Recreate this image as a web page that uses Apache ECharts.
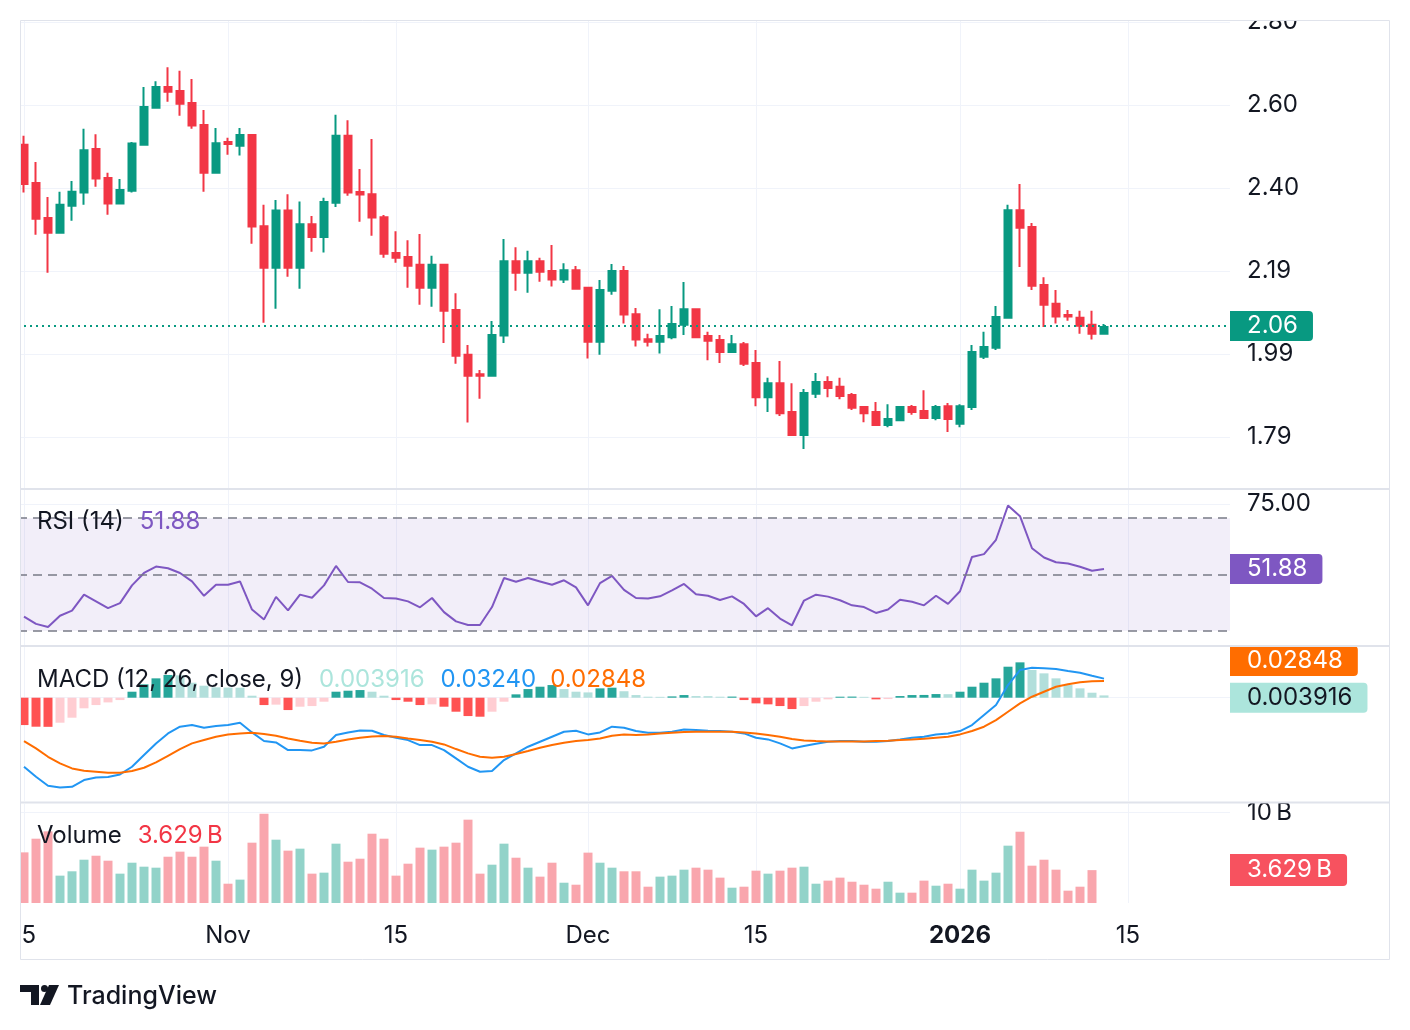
<!DOCTYPE html>
<html>
<head>
<meta charset="utf-8">
<title>XRP daily</title>
<script src="https://cdn.jsdelivr.net/npm/echarts@6/dist/echarts.min.js"></script>
<style>
  html, body { margin: 0; background: #fff; }
  #chart { width: 1410px; height: 1030px; }
</style>
</head>
<body>
<div id="chart"></div>
<script>
// daily candles from 15 Oct 2025, axis runs on a few days past the last one
const firstDay = [2025, 9, 15];
const dayCount = 101;

const opens = [2.501, 2.408, 2.323, 2.287, 2.353, 2.385, 2.491, 2.420, 2.358, 2.389,
  2.501, 2.591, 2.642, 2.632, 2.603, 2.549, 2.433, 2.508, 2.499, 2.525,
  2.303, 2.202, 2.341, 2.202, 2.308, 2.277, 2.360, 2.523, 2.386, 2.381,
  2.325, 2.238, 2.228, 2.209, 2.153, 2.209, 2.099, 1.990, 1.943, 1.939,
  2.037, 2.218, 2.190, 2.218, 2.194, 2.173, 2.196, 2.153, 2.022, 2.146,
  2.194, 2.089, 2.028, 2.022, 2.033, 2.063, 2.101, 2.036, 2.026, 1.997,
  2.016, 1.970, 1.887, 1.921, 1.851, 1.795, 1.895, 1.924, 1.912, 1.892,
  1.863, 1.851, 1.819, 1.831, 1.863, 1.853, 1.836, 1.865, 1.822, 1.863,
  1.985, 2.007, 2.080, 2.342, 2.301, 2.160, 2.114, 2.087, 2.080, 2.063,
  2.041];
const closes = [2.406, 2.321, 2.287, 2.355, 2.387, 2.488, 2.419, 2.358, 2.391, 2.504,
  2.593, 2.642, 2.630, 2.601, 2.548, 2.433, 2.505, 2.503, 2.525, 2.302,
  2.202, 2.341, 2.202, 2.308, 2.277, 2.362, 2.523, 2.385, 2.380, 2.324,
  2.236, 2.226, 2.207, 2.153, 2.209, 2.097, 1.988, 1.939, 1.939, 2.038,
  2.218, 2.190, 2.218, 2.192, 2.173, 2.196, 2.151, 2.022, 2.148, 2.194,
  2.088, 2.027, 2.022, 2.036, 2.065, 2.101, 2.033, 2.024, 1.997, 2.016,
  1.968, 1.887, 1.921, 1.848, 1.795, 1.897, 1.924, 1.909, 1.890, 1.861,
  1.848, 1.819, 1.834, 1.863, 1.851, 1.836, 1.863, 1.834, 1.865, 1.997,
  2.009, 2.082, 2.342, 2.299, 2.158, 2.112, 2.083, 2.083, 2.061, 2.041,
  2.058];
const lows = [2.385, 2.282, 2.190, 2.287, 2.316, 2.355, 2.399, 2.331, 2.358, 2.385,
  2.501, 2.591, 2.606, 2.572, 2.540, 2.387, 2.433, 2.477, 2.475, 2.260,
  2.068, 2.102, 2.180, 2.151, 2.241, 2.239, 2.350, 2.377, 2.314, 2.280,
  2.226, 2.214, 2.153, 2.112, 2.107, 2.019, 1.968, 1.825, 1.883, 1.939,
  2.019, 2.146, 2.141, 2.168, 2.156, 2.165, 2.151, 1.981, 1.990, 2.136,
  2.066, 2.010, 2.010, 1.993, 2.028, 2.038, 2.033, 1.977, 1.970, 1.997,
  1.963, 1.865, 1.851, 1.841, 1.795, 1.761, 1.885, 1.887, 1.882, 1.856,
  1.826, 1.819, 1.814, 1.831, 1.844, 1.836, 1.831, 1.802, 1.814, 1.856,
  1.980, 2.002, 2.080, 2.204, 2.148, 2.058, 2.066, 2.073, 2.041, 2.027,
  2.039];
const highs = [2.523, 2.459, 2.374, 2.387, 2.413, 2.540, 2.527, 2.433, 2.418, 2.508,
  2.642, 2.656, 2.690, 2.681, 2.661, 2.586, 2.542, 2.518, 2.542, 2.525,
  2.355, 2.367, 2.381, 2.363, 2.328, 2.372, 2.574, 2.561, 2.442, 2.515,
  2.330, 2.291, 2.269, 2.284, 2.231, 2.209, 2.140, 2.014, 1.953, 2.072,
  2.272, 2.252, 2.243, 2.226, 2.257, 2.213, 2.206, 2.153, 2.172, 2.211,
  2.206, 2.104, 2.041, 2.101, 2.109, 2.167, 2.101, 2.046, 2.038, 2.038,
  2.021, 2.002, 1.934, 1.975, 1.921, 1.907, 1.946, 1.938, 1.934, 1.897,
  1.865, 1.875, 1.870, 1.863, 1.868, 1.904, 1.868, 1.873, 1.870, 2.014,
  2.046, 2.109, 2.355, 2.406, 2.311, 2.179, 2.148, 2.099, 2.097, 2.097,
  2.065];

const rsi = [35.0, 32.4, 31.3, 35.3, 37.1, 42.8, 40.4, 38.0, 39.8, 46.1,
  50.5, 52.8, 52.2, 50.5, 47.5, 42.4, 46.3, 46.3, 47.5, 37.5,
  34.0, 42.0, 37.2, 42.8, 41.7, 46.1, 53.0, 47.3, 47.2, 44.9,
  41.6, 41.4, 40.4, 38.3, 41.6, 36.6, 33.3, 32.0, 32.0, 38.4,
  48.7, 47.4, 48.7, 47.5, 46.3, 47.9, 45.4, 39.0, 46.9, 49.5,
  44.5, 41.6, 41.4, 42.2, 44.3, 46.6, 42.9, 42.4, 40.9, 42.2,
  39.5, 35.1, 38.0, 34.3, 31.9, 40.7, 42.8, 42.1, 40.8, 39.0,
  38.4, 36.3, 37.5, 41.0, 40.3, 39.0, 42.4, 39.5, 44.0, 56.2,
  57.2, 62.3, 74.5, 70.7, 59.3, 56.0, 54.3, 53.9, 52.7, 51.3,
  51.88];

const macdHist = [-0.0465, -0.0493, -0.0495, -0.0425, -0.034, -0.018, -0.0125, -0.008, -0.004, 0.0102,
  0.0227, 0.0329, 0.0386, 0.038, 0.0255, 0.0204, 0.0176, 0.0172, 0.017, 0.0034,
  -0.0125, -0.0118, -0.021, -0.0153, -0.0142, -0.0068, 0.0102, 0.0119, 0.013, 0.0102,
  0.0034, -0.004, -0.0068, -0.0125, -0.0113, -0.0153, -0.0238, -0.0312, -0.0323, -0.0238,
  -0.0068, 0.0057, 0.0147, 0.0187, 0.0215, 0.0147, 0.0102, 0.009, 0.0159, 0.017,
  0.011, 0.0045, 0.0017, 0.0015, 0.0022, 0.0045, 0.0028, 0.0026, 0.0017, 0.0019,
  -0.004, -0.0096, -0.0113, -0.0142, -0.0193, -0.0142, -0.0068, -0.0028, 0.0017, 0.0019,
  0.0015, -0.0028, -0.0023, 0.0028, 0.0045, 0.0047, 0.0062, 0.006, 0.0102, 0.0187,
  0.0255, 0.0329, 0.0527, 0.0601, 0.0471, 0.0414, 0.0329, 0.0215, 0.0159, 0.0085,
  0.003916];
const macdLine = [-0.1174, -0.1344, -0.1497, -0.1525, -0.1514, -0.14, -0.1355, -0.1349, -0.1304, -0.1174,
  -0.0975, -0.0777, -0.0607, -0.0493, -0.0465, -0.051, -0.0482, -0.0465, -0.0425, -0.059,
  -0.0737, -0.076, -0.089, -0.089, -0.0896, -0.0833, -0.0635, -0.059, -0.0556, -0.0561,
  -0.0635, -0.068, -0.072, -0.0805, -0.0805, -0.089, -0.1032, -0.1174, -0.1259, -0.1247,
  -0.106, -0.0947, -0.0833, -0.0748, -0.0663, -0.0578, -0.0561, -0.0624, -0.059, -0.0493,
  -0.051, -0.0567, -0.0595, -0.0595, -0.0578, -0.0539, -0.055, -0.0561, -0.0567, -0.0578,
  -0.0607, -0.068, -0.0709, -0.0777, -0.0862, -0.0822, -0.0782, -0.0748, -0.0737, -0.0737,
  -0.0748, -0.0748, -0.0737, -0.0709, -0.068, -0.0663, -0.0624, -0.0607, -0.0567, -0.0465,
  -0.0295, -0.0125, 0.0215, 0.0471, 0.051, 0.0499, 0.0488, 0.0454, 0.0425, 0.0374,
  0.0324];
const signalLine = [-0.0737, -0.0862, -0.1004, -0.1117, -0.1202, -0.1242, -0.1259, -0.1276, -0.1276, -0.1247,
  -0.1191, -0.11, -0.0987, -0.0873, -0.0777, -0.072, -0.0663, -0.0624, -0.0607, -0.0595,
  -0.0618, -0.0646, -0.0692, -0.0731, -0.0765, -0.0777, -0.0748, -0.0709, -0.068, -0.0658,
  -0.0652, -0.0663, -0.0692, -0.072, -0.0748, -0.0794, -0.0873, -0.0947, -0.1004, -0.1021,
  -0.1004, -0.0958, -0.0907, -0.0851, -0.0805, -0.0765, -0.0737, -0.072, -0.0692, -0.0646,
  -0.0624, -0.0635, -0.0624, -0.0607, -0.0595, -0.0584, -0.0578, -0.0578, -0.0578, -0.0578,
  -0.059, -0.0607, -0.0635, -0.0663, -0.0703, -0.0726, -0.0737, -0.0743, -0.0743, -0.0743,
  -0.0743, -0.0737, -0.0731, -0.072, -0.0709, -0.0697, -0.068, -0.0663, -0.0624, -0.0567,
  -0.0493, -0.038, -0.0238, -0.0096, 0.0017, 0.0102, 0.0187, 0.0227, 0.0261, 0.0278,
  0.02848];

// billions; today's bar not printed yet
const volume = [5.59, 7.10, 7.91, 3.02, 3.50, 4.78, 5.22, 4.67, 3.24, 4.45,
  4.01, 3.90, 5.11, 5.67, 5.11, 6.22, 4.67, 2.13, 2.58, 6.66,
  9.86, 6.99, 5.78, 6.00, 3.24, 3.35, 6.55, 4.56, 4.89, 7.65,
  7.10, 3.02, 4.34, 6.11, 5.89, 6.22, 6.66, 9.20, 3.24, 4.23,
  6.55, 5.00, 3.90, 2.91, 4.45, 2.24, 2.02, 5.56, 4.45, 3.90,
  3.50, 3.50, 1.80, 2.91, 3.02, 3.68, 3.90, 3.68, 2.80, 1.69,
  1.80, 3.57, 3.24, 3.57, 3.90, 4.01, 2.13, 2.47, 2.80, 2.35,
  2.02, 1.58, 2.35, 1.14, 1.14, 2.47, 1.91, 2.13, 1.58, 3.68,
  2.47, 3.35, 6.33, 7.87, 4.12, 4.78, 3.68, 1.36, 1.80, 3.629];

const priceTicks = [1.79, 1.992, 2.194, 2.396, 2.598, 2.80];
const rsiTicks = [75];
const rsiLevels = [70, 50, 30];
const macdTicks = [0];
const volumeTicks = [10];
const monthNames = ['Jan', 'Feb', 'Mar', 'Apr', 'May', 'Jun', 'Jul', 'Aug', 'Sep', 'Oct', 'Nov', 'Dec'];

const fontFamily = 'Inter, "Noto Sans", sans-serif';
const fontSize = 24;
const textColor = '#131722';
const gridColor = '#f0f3fa';
const upColor = '#089981';
const downColor = '#f23645';
const hidden = 'rgba(0,0,0,0)';

const dates = [];
for (let k = 0; k < dayCount; k++) {
  const d = new Date(Date.UTC(firstDay[0], firstDay[1], firstDay[2] + k));
  dates.push(d.toISOString().slice(0, 10));
}
const dayOf = (i) => +dates[i].slice(8, 10);
const marked = (i) => dayOf(i) === 1 || dayOf(i) === 15;

function dateLabel(value) {
  const [y, m, d] = value.split('-').map(Number);
  if (d === 15) return '15';
  if (m === 1) return '{year|' + y + '}';
  return monthNames[m - 1];
}

const candles = opens.map((o, i) => [o, closes[i], lows[i], highs[i]]);
const last = (arr) => arr[arr.length - 1];

const labelFont = { color: textColor, fontSize: fontSize, fontFamily: fontFamily };
const badge = (bg, fg) => ({
  show: true, position: 'end', distance: 0,
  backgroundColor: bg, color: fg, fontSize: fontSize, lineHeight: 24, fontFamily: fontFamily,
  padding: [3, 15, 3, 17], borderRadius: [0, 4, 4, 0]
});

function xAxisFor(gi, showLabels) {
  return {
    type: 'category', gridIndex: gi, data: dates, boundaryGap: true,
    axisLine: { show: false }, axisTick: { show: false },
    axisLabel: Object.assign({
      show: showLabels, interval: marked, formatter: dateLabel, margin: 21,
      rich: { year: { fontWeight: 'bold', fontSize: fontSize, fontFamily: fontFamily, color: textColor } }
    }, labelFont),
    splitLine: { show: true, interval: marked, alignWithLabel: true, lineStyle: { color: gridColor, width: 1 } }
  };
}

function yAxisFor(gi, min, max, ticks, fmt) {
  return {
    type: 'value', gridIndex: gi, position: 'right', min: min, max: max,
    axisLine: { show: false },
    axisTick: { show: false, customValues: ticks },
    axisLabel: Object.assign({ show: !!fmt, customValues: ticks, formatter: fmt, margin: 17 }, labelFont),
    splitLine: { show: true, lineStyle: { color: gridColor, width: 1 } }
  };
}

const chart = echarts.init(document.getElementById('chart'));

chart.setOption({
  animation: false,
  backgroundColor: '#fff',
  grid: [
    { left: 18, top: 20, width: 1212, height: 468 },
    { left: 18, top: 490, width: 1212, height: 155 },
    { left: 18, top: 647, width: 1212, height: 154 },
    { left: 18, top: 804, width: 1212, height: 99 }
  ],
  xAxis: [xAxisFor(0, false), xAxisFor(1, false), xAxisFor(2, false), xAxisFor(3, true)],
  yAxis: [
    yAxisFor(0, 1.6659, 2.8048, priceTicks, (v) => v.toFixed(2)),
    yAxisFor(1, 24.9, 80, rsiTicks, (v) => v.toFixed(2)),
    yAxisFor(2, -0.1756, 0.0862, macdTicks, null),
    yAxisFor(3, 0, 10.93, volumeTicks, (v) => v + '\u2009B')
  ],
  series: [
    {
      name: 'Price', type: 'candlestick', xAxisIndex: 0, yAxisIndex: 0,
      data: candles, barWidth: 8,
      itemStyle: { color: upColor, color0: downColor, borderColor: upColor, borderColor0: downColor, borderWidth: 2 },
      markLine: {
        symbol: 'none', silent: true, animation: false,
        data: [{
          yAxis: last(closes),
          lineStyle: { color: upColor, type: [2, 4], width: 2 },
          label: Object.assign(badge(upColor, '#fff'), { formatter: last(closes).toFixed(2) })
        }]
      }
    },
    {
      name: 'RSI', type: 'line', xAxisIndex: 1, yAxisIndex: 1,
      data: rsi, symbol: 'none', lineStyle: { color: '#7e57c2', width: 2 },
      markArea: {
        silent: true,
        itemStyle: { color: 'rgba(126,87,194,0.1)' },
        data: [[{ yAxis: rsiLevels[2] }, { yAxis: rsiLevels[0] }]]
      },
      markLine: {
        symbol: 'none', silent: true, animation: false,
        data: rsiLevels.map((v) => ({
          yAxis: v, lineStyle: { color: '#787b86', type: [9, 6], width: 1.5 }, label: { show: false }
        })).concat([{
          yAxis: last(rsi), lineStyle: { color: hidden, width: 0 },
          label: Object.assign(badge('#7e57c2', '#fff'), { formatter: last(rsi).toFixed(2) })
        }])
      }
    },
    {
      name: 'Histogram', type: 'bar', xAxisIndex: 2, yAxisIndex: 2,
      data: macdHist, barWidth: 9,
      itemStyle: {
        color: (p) => {
          const h = macdHist[p.dataIndex];
          const prev = p.dataIndex > 0 ? macdHist[p.dataIndex - 1] : h;
          if (h >= 0) return h >= prev ? '#26a69a' : '#b2dfdb';
          return h <= prev ? '#ff5252' : '#ffcdd2';
        }
      }
    },
    {
      name: 'MACD', type: 'line', xAxisIndex: 2, yAxisIndex: 2,
      data: macdLine, symbol: 'none', lineStyle: { color: '#2196f3', width: 2 }
    },
    {
      name: 'Signal', type: 'line', xAxisIndex: 2, yAxisIndex: 2,
      data: signalLine, symbol: 'none', lineStyle: { color: '#ff6d00', width: 2 },
      markLine: {
        symbol: 'none', silent: true, animation: false,
        data: [
          {
            yAxis: last(signalLine), lineStyle: { color: hidden, width: 0 },
            label: Object.assign(badge('#ff6d00', '#fff'), { formatter: last(signalLine).toFixed(5), offset: [0, -19] })
          },
          {
            yAxis: last(macdHist), lineStyle: { color: hidden, width: 0 },
            label: Object.assign(badge('#ace5dc', textColor), { formatter: last(macdHist).toFixed(6) })
          }
        ]
      }
    },
    {
      name: 'Volume', type: 'bar', xAxisIndex: 3, yAxisIndex: 3,
      data: volume, barWidth: 9,
      itemStyle: { color: (p) => closes[p.dataIndex] >= opens[p.dataIndex] ? '#92d3c9' : '#f9a6ad' },
      markLine: {
        symbol: 'none', silent: true, animation: false,
        data: [{
          yAxis: last(volume), lineStyle: { color: hidden, width: 0 },
          label: Object.assign(badge('#f7525f', '#fff'), { formatter: last(volume).toFixed(3) + '\u2009B', padding: [4, 15, 4, 17] })
        }]
      }
    }
  ],
  graphic: [
    { type: 'rect', silent: true, z: 100, shape: { x: 0, y: 0, width: 20, height: 1030 }, style: { fill: '#fff' } },
    { type: 'rect', silent: true, z: 100, shape: { x: 0, y: 0, width: 1410, height: 20 }, style: { fill: '#fff' } },
    { type: 'rect', silent: true, z: 101, shape: { x: 20.5, y: 20.5, width: 1369, height: 939 }, style: { fill: null, stroke: '#e0e3eb', lineWidth: 1 } },
    { type: 'line', silent: true, z: 101, shape: { x1: 20, y1: 489, x2: 1390, y2: 489 }, style: { stroke: '#e0e3eb', lineWidth: 2 } },
    { type: 'line', silent: true, z: 101, shape: { x1: 20, y1: 646, x2: 1390, y2: 646 }, style: { stroke: '#e0e3eb', lineWidth: 2 } },
    { type: 'line', silent: true, z: 101, shape: { x1: 20, y1: 802.5, x2: 1390, y2: 802.5 }, style: { stroke: '#e0e3eb', lineWidth: 2 } },
    {
      type: 'text', silent: true, z: 102, x: 37, y: 522,
      style: {
        text: '{a|RSI (14)}{b|' + last(rsi).toFixed(2) + '}', verticalAlign: 'middle',
        rich: {
          a: { fontSize: fontSize, fontFamily: fontFamily, fill: textColor },
          b: { fontSize: fontSize, fontFamily: fontFamily, fill: '#7e57c2', padding: [0, 0, 0, 16] }
        }
      }
    },
    {
      type: 'text', silent: true, z: 102, x: 37, y: 680,
      style: {
        text: '{a|MACD (12, 26, close, 9)}{h|' + last(macdHist).toFixed(6) + '}{m|' + last(macdLine).toFixed(5) + '}{s|' + last(signalLine).toFixed(5) + '}',
        verticalAlign: 'middle',
        rich: {
          a: { fontSize: fontSize, fontFamily: fontFamily, fill: textColor },
          h: { fontSize: fontSize, fontFamily: fontFamily, fill: '#ace5dc', padding: [0, 0, 0, 16] },
          m: { fontSize: fontSize, fontFamily: fontFamily, fill: '#2196f3', padding: [0, 0, 0, 16] },
          s: { fontSize: fontSize, fontFamily: fontFamily, fill: '#ff6d00', padding: [0, 0, 0, 14] }
        }
      }
    },
    {
      type: 'text', silent: true, z: 102, x: 37, y: 836,
      style: {
        text: '{a|Volume}{b|' + last(volume).toFixed(3) + '\u2009B}', verticalAlign: 'middle',
        rich: {
          a: { fontSize: fontSize, fontFamily: fontFamily, fill: textColor },
          b: { fontSize: fontSize, fontFamily: fontFamily, fill: '#f23645', padding: [0, 0, 0, 16] }
        }
      }
    },
    // TradingView mark + wordmark
    { type: 'rect', silent: true, z: 102, shape: { x: 20, y: 985, width: 19, height: 7 }, style: { fill: textColor } },
    { type: 'rect', silent: true, z: 102, shape: { x: 31, y: 985, width: 8, height: 20 }, style: { fill: textColor } },
    { type: 'circle', silent: true, z: 102, shape: { cx: 44.5, cy: 988.5, r: 3.5 }, style: { fill: textColor } },
    { type: 'polygon', silent: true, z: 102, shape: { points: [[49, 985], [59, 985], [50, 1005], [40, 1005]] }, style: { fill: textColor } },
    {
      type: 'text', silent: true, z: 102, x: 67, y: 996,
      style: { text: 'TradingView', fontSize: 25, fontWeight: 500, fontFamily: fontFamily, fill: textColor, verticalAlign: 'middle' }
    }
  ]
});

window.addEventListener('resize', () => chart.resize());
</script>
</body>
</html>
